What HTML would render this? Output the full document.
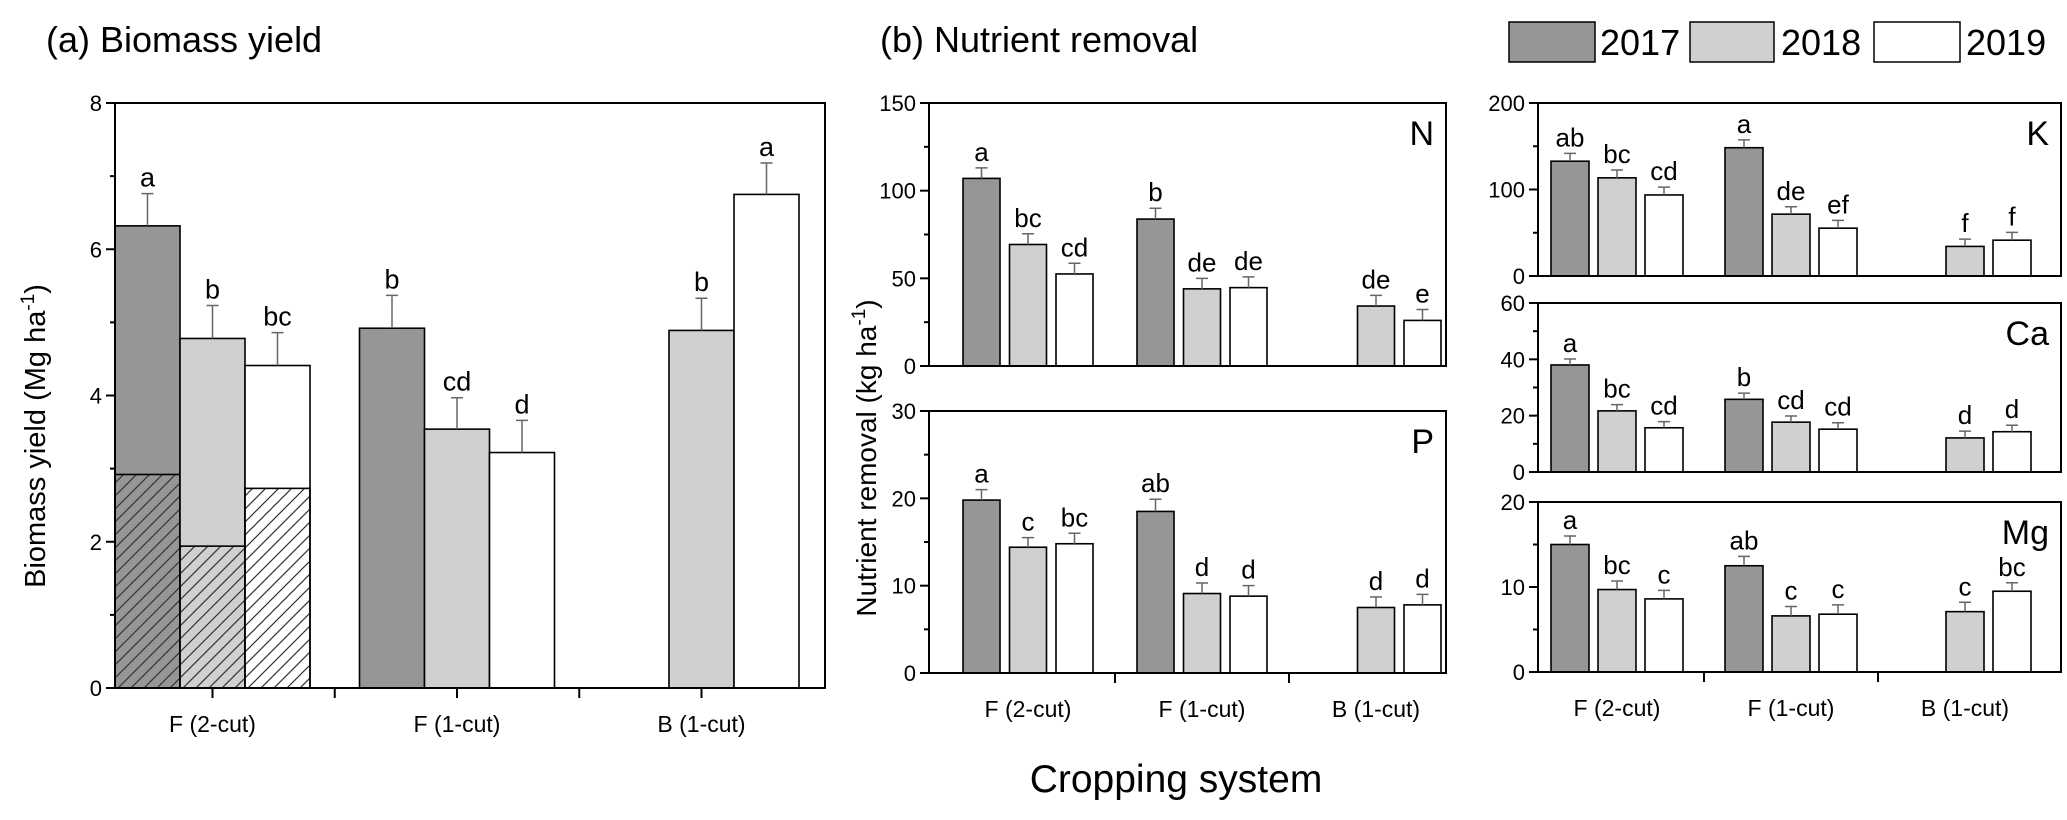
<!DOCTYPE html>
<html><head><meta charset="utf-8">
<style>
html,body{margin:0;padding:0;background:#fff;}
svg{display:block;font-family:"Liberation Sans",Arial,sans-serif;}
</style></head>
<body>
<svg id="chart" width="2067" height="820" viewBox="0 0 2067 820" xmlns="http://www.w3.org/2000/svg">
<defs>
<pattern id="hatch" patternUnits="userSpaceOnUse" width="13" height="13">
<path d="M-2,15 L15,-2 M-2,2 L2,-2 M11,15 L15,11" stroke="#333" stroke-width="1.2"/>
</pattern>
</defs>
<text x="46" y="52" font-size="36">(a) Biomass yield</text>
<text x="880" y="52" font-size="36">(b) Nutrient removal</text>
<g>
<rect x="1509" y="22" width="86" height="40" fill="#969696" stroke="#000" stroke-width="1.5"/>
<text x="1600" y="55" font-size="36">2017</text>
<rect x="1690" y="22" width="84" height="40" fill="#d0d0d0" stroke="#000" stroke-width="1.5"/>
<text x="1781" y="55" font-size="36">2018</text>
<rect x="1874" y="22" width="86" height="40" fill="#fff" stroke="#000" stroke-width="1.5"/>
<text x="1966" y="55" font-size="36">2019</text>
</g>
<text transform="translate(45,436) rotate(-90)" text-anchor="middle" font-size="29">Biomass yield (Mg ha<tspan dy="-11" font-size="19">-1</tspan><tspan dy="11">)</tspan></text>
<text transform="translate(876,458) rotate(-90)" text-anchor="middle" font-size="28">Nutrient removal (kg ha<tspan dy="-11" font-size="19">-1</tspan><tspan dy="11">)</tspan></text>
<text x="1176" y="792" text-anchor="middle" font-size="39">Cropping system</text>
</svg>
<script>
const categories = ["F (2-cut)", "F (1-cut)", "B (1-cut)"];
const years = ["2017", "2018", "2019"];
// values per category: [2017, 2018, 2019]
const biomassValues = [[6.32, 4.78, 4.41], [4.92, 3.54, 3.22], [null, 4.89, 6.75]];
const biomassErrTop = [[6.76, 5.23, 4.86], [5.37, 3.97, 3.66], [null, 5.33, 7.18]];
const biomassFirstCut = [[2.92, 1.94, 2.73], [null, null, null], [null, null, null]];
const biomassLetters = [["a", "b", "bc"], ["b", "cd", "d"], [null, "b", "a"]];
const biomassTicks = [0, 2, 4, 6, 8];

const nValues = [[107, 69.3, 52.5], [83.8, 44, 44.7], [null, 34.2, 26]];
const nErrTop = [[113, 75.4, 58.6], [90, 50, 50.8], [null, 40.3, 32.2]];
const nLetters = [["a", "bc", "cd"], ["b", "de", "de"], [null, "de", "e"]];
const nTicks = [0, 50, 100, 150];

const pValues = [[19.8, 14.4, 14.8], [18.5, 9.1, 8.8], [null, 7.5, 7.8]];
const pErrTop = [[21, 15.5, 16], [19.9, 10.3, 10], [null, 8.7, 9.0]];
const pLetters = [["a", "c", "bc"], ["ab", "d", "d"], [null, "d", "d"]];
const pTicks = [0, 10, 20, 30];

const kValues = [[132.7, 113.5, 93.7], [148.3, 71.5, 55.3], [null, 34.2, 41.4]];
const kErrTop = [[141.7, 122.5, 102.7], [157.3, 80, 64.3], [null, 42.6, 50.5]];
const kLetters = [["ab", "bc", "cd"], ["a", "de", "ef"], [null, "f", "f"]];
const kTicks = [0, 100, 200];

const caValues = [[38, 21.7, 15.7], [25.8, 17.7, 15.2], [null, 12.1, 14.3]];
const caErrTop = [[40.1, 23.9, 17.9], [28, 19.9, 17.5], [null, 14.5, 16.6]];
const caLetters = [["a", "bc", "cd"], ["b", "cd", "cd"], [null, "d", "d"]];
const caTicks = [0, 20, 40, 60];

const mgValues = [[15, 9.7, 8.6], [12.5, 6.6, 6.8], [null, 7.1, 9.5]];
const mgErrTop = [[16, 10.7, 9.6], [13.6, 7.7, 7.9], [null, 8.2, 10.5]];
const mgLetters = [["a", "bc", "c"], ["ab", "c", "c"], [null, "c", "bc"]];
const mgTicks = [0, 10, 20];

const fills = ["#969696", "#d0d0d0", "#ffffff"];
const svg = document.getElementById("chart");
const NS = "http://www.w3.org/2000/svg";
function mk(tag, attrs, parent) {
  const e = document.createElementNS(NS, tag);
  for (const k in attrs) e.setAttribute(k, attrs[k]);
  (parent || svg).appendChild(e);
  return e;
}

function drawPanel(p, values, errTop, letters, ticks, firstCut) {
  const g = mk("g", {});
  
  
  const max = ticks[ticks.length - 1];
  const y = v => p.yb - (v / max) * (p.yb - p.yt);
  const slotX = (ci, yi) => p.s0 + p.gs * ci + p.step * yi;
  const catX = ci => slotX(ci, 1) + p.w / 2;
  for (let ci = 0; ci < categories.length; ci++) {
    for (let yi = 0; yi < years.length; yi++) {
      const v = values[ci][yi];
      if (v === null) continue;
      const bx = slotX(ci, yi);
      const bar = mk("rect", {x: bx, y: y(v), width: p.w, height: y(0) - y(v), fill: fills[yi], stroke: "#000", "stroke-width": 1.6}, g);
      
      
      if (firstCut && firstCut[ci][yi] !== null) {
        const fc = firstCut[ci][yi];
        const h = mk("rect", {x: bx, y: y(fc), width: p.w, height: y(0) - y(fc), fill: "url(#hatch)", stroke: "#000", "stroke-width": 1.6}, g);
        
        
      }
      const et = errTop[ci][yi];
      const cx = bx + p.w / 2;
      const eb = mk("path", {d: "M" + cx + "," + y(v) + "V" + y(et) + "M" + (cx - 6) + "," + y(et) + "H" + (cx + 6), stroke: "#666", "stroke-width": 1.5, fill: "none"}, g);
      
      
      const lt = mk("text", {x: cx, y: y(et) - 7, "text-anchor": "middle", "font-size": p.lfs}, g);
      lt.textContent = letters[ci][yi];
      
      
    }
  }
  const fr = mk("rect", {x: p.x0, y: p.yt, width: p.x1 - p.x0, height: p.yb - p.yt, fill: "none", stroke: "#000", "stroke-width": 2}, g);
  
  
  for (let i = 0; i < ticks.length; i++) {
    const ty = y(ticks[i]);
    mk("line", {x1: p.x0 - 9, x2: p.x0, y1: ty, y2: ty, stroke: "#000", "stroke-width": 2}, g);
    const tl = mk("text", {x: p.x0 - 13, y: ty + 8, "text-anchor": "end", "font-size": 22}, g);
    tl.textContent = ticks[i];
    
    
    if (i < ticks.length - 1) {
      const my = y((ticks[i] + ticks[i + 1]) / 2);
      mk("line", {x1: p.x0 - 5, x2: p.x0, y1: my, y2: my, stroke: "#000", "stroke-width": 2}, g);
    }
  }
  if (p.xticks) {
    for (let ci = 0; ci < categories.length; ci++) {
      if (p.centerTicks) mk("line", {x1: catX(ci), x2: catX(ci), y1: p.yb, y2: p.yb + 10, stroke: "#000", "stroke-width": 2}, g);
      if (ci > 0) {
        const bxm = (slotX(ci - 1, 2) + p.w + slotX(ci, 0)) / 2;
        mk("line", {x1: bxm, x2: bxm, y1: p.yb, y2: p.yb + 10, stroke: "#000", "stroke-width": 2}, g);
      }
      const cl = mk("text", {x: catX(ci), y: p.yb + 44, "text-anchor": "middle", "font-size": 23}, g);
      cl.textContent = categories[ci];
      
      
    }
  }
  if (p.label) {
    const nl = mk("text", {x: p.x1 - 12, y: p.yt + 42, "text-anchor": "end", "font-size": 34}, g);
    nl.textContent = p.label;
    
    
  }
}

drawPanel({name: "biomass", x0: 115, x1: 825, yt: 103, yb: 688, s0: 115, gs: 244.5, step: 65, w: 65, lfs: 27, xticks: true, centerTicks: true}, biomassValues, biomassErrTop, biomassLetters, biomassTicks, biomassFirstCut);
const L = {x0: 929, x1: 1446, s0: 963, gs: 174, step: 46.5, w: 37, lfs: 26};
const R = {x0: 1538, x1: 2061, s0: 1551, gs: 174, step: 47, w: 38, lfs: 26};
drawPanel(Object.assign({name: "nitrogen", yt: 103, yb: 366, label: "N"}, L), nValues, nErrTop, nLetters, nTicks);
drawPanel(Object.assign({name: "phosphorus", yt: 411, yb: 673, label: "P", xticks: true}, L), pValues, pErrTop, pLetters, pTicks);
drawPanel(Object.assign({name: "potassium", yt: 103, yb: 276, label: "K"}, R), kValues, kErrTop, kLetters, kTicks);
drawPanel(Object.assign({name: "calcium", yt: 303, yb: 472, label: "Ca"}, R), caValues, caErrTop, caLetters, caTicks);
drawPanel(Object.assign({name: "magnesium", yt: 502, yb: 672, label: "Mg", xticks: true}, R), mgValues, mgErrTop, mgLetters, mgTicks);
</script>
</body></html>
